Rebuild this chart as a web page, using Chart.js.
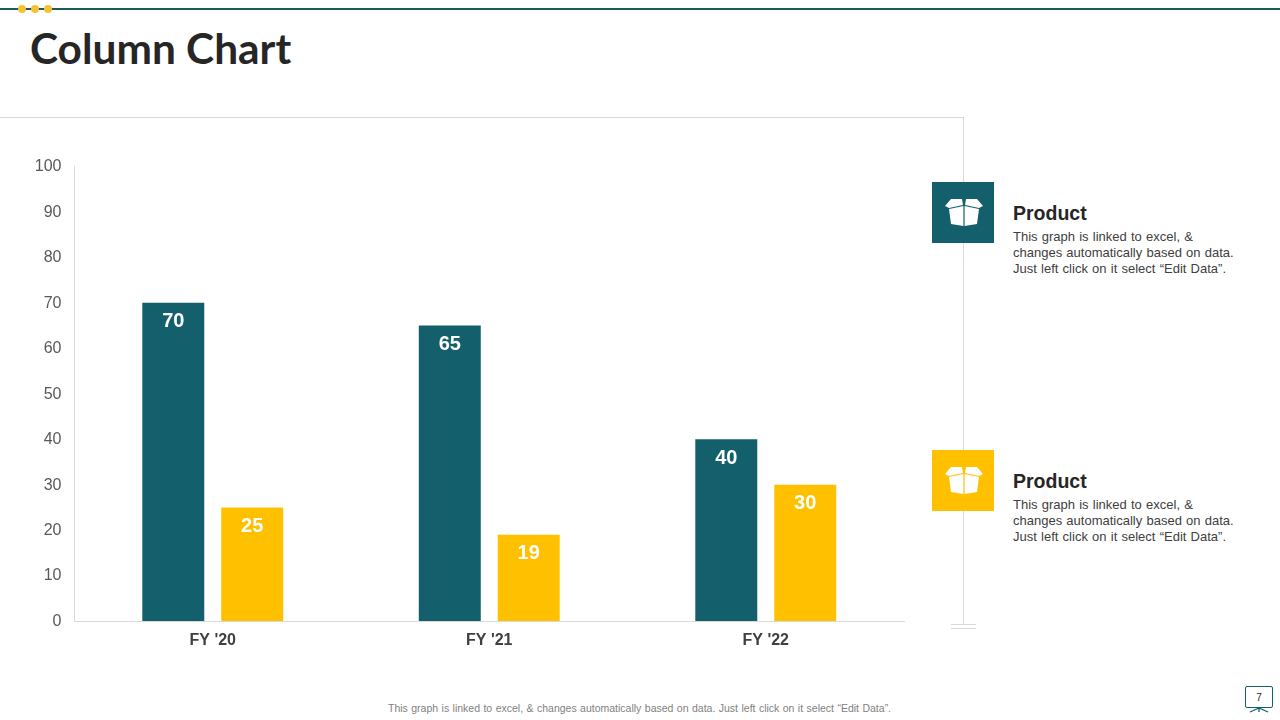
<!DOCTYPE html>
<html>
<head>
<meta charset="utf-8">
<title>Column Chart</title>
<script src="https://cdn.jsdelivr.net/npm/chart.js@4/dist/chart.umd.min.js"></script>
<style>
    html, body { margin: 0; padding: 0; background: #fff; }
    body { width: 1280px; height: 720px; position: relative; overflow: hidden; font-family: "Liberation Sans", Arial, sans-serif; }
    .abs { position: absolute; }
    #chartWrap { position: absolute; left: 0; top: 150px; width: 930px; height: 510px; }
    h1 { position: absolute; left: 30px; top: 23px; margin: 0; font-family: Lato, sans-serif; font-weight: 700; font-size: 42.4px; line-height: 50px; color: #262626; white-space: nowrap; }
    .dot { position: absolute; top: 5px; width: 8px; height: 8px; border-radius: 50%; background: #f4c430; }
    .tile { position: absolute; left: 932px; width: 62px; height: 61px; }
    .tile svg { position: absolute; left: 13px; top: 17px; }
    .panelTitle { position: absolute; left: 1013px; font-weight: 700; font-size: 19.5px; line-height: 24px; color: #262626; }
    .panelText { position: absolute; left: 1013px; font-size: 13px; line-height: 16px; color: #404040; word-spacing: .6px; white-space: pre; }
    #footer { position: absolute; left: 388px; top: 701px; font-size: 10.5px; line-height: 14px; color: #7f7f7f; white-space: nowrap; word-spacing: .52px; }
    #pageBox { position: absolute; left: 1245px; top: 686px; width: 26px; height: 20px; border: 1px solid #135f6b; border-radius: 2px; text-align: center; font-size: 10px; line-height: 21px; color: #262626; }
</style>
</head>
<body>

<div class="abs" style="left:0;top:8px;width:1280px;height:2px;background:#1d5a5e"></div>
<div class="dot" style="left:18px"></div>
<div class="dot" style="left:31px"></div>
<div class="dot" style="left:44px"></div>
<h1 id="title"></h1>

<!-- frame behind the chart -->
<div class="abs" style="left:0;top:117px;width:964px;height:1px;background:#d9d9d9"></div>
<div class="abs" style="left:963px;top:117px;width:1px;height:508px;background:#d9d9d9"></div>
<div class="abs" style="left:951px;top:624px;width:25px;height:1px;background:#d9d9d9"></div>
<div class="abs" style="left:951px;top:628px;width:25px;height:1px;background:#d9d9d9"></div>

<div id="chartWrap"><canvas id="columnChart"></canvas></div>

<div id="panels"></div>

<div id="footer"></div>
<div id="pageBox"></div>
<svg class="abs" style="left:1245px;top:707px" width="28" height="7" viewBox="0 0 28 7">
    <path d="M14 1 L5 5 M14 1 L23 5 M14 1 V5" stroke="#135f6b" stroke-width="1.3" fill="none"/>
</svg>

<script>
var categories = ["FY '20", "FY '21", "FY '22"];
var seriesNames = ['Product', 'Product'];
var seriesOne = [70, 65, 40];
var seriesTwo = [25, 19, 30];
var seriesColors = ['#135f6b', '#ffc000'];
var yTicks = [0, 10, 20, 30, 40, 50, 60, 70, 80, 90, 100];
var panelTops = [182, 450];
var panelText = 'This graph is linked to excel, &\nchanges automatically based on data.\nJust left click on it select “Edit Data”.';
var footerText = 'This graph is linked to excel, & changes automatically based on data. Just left click on it select “Edit Data”.';

document.getElementById('title').textContent = 'Column Chart';
document.getElementById('footer').textContent = footerText;
document.getElementById('pageBox').textContent = '7';

// side panels with the box icon
var boxIcon = '<svg width="38" height="27" viewBox="0 0 38 27">' +
    '<path d="M0 7 L6 0 L17 0 L18 6 L4 9 Z M38 7 L32 0 L21 0 L20 6 L34 9 Z" fill="#fff"/>' +
    '<path d="M4 10 L18.4 7 L18.4 27 L6 25 Z M34 10 L19.6 7 L19.6 27 L32 25 Z" fill="#fff"/></svg>';
var panels = document.getElementById('panels');
for (var i = 0; i < panelTops.length; i++) {
    var panelTop = panelTops[i];
    panels.innerHTML +=
        '<div class="tile" style="top:' + panelTop + 'px;background:' + seriesColors[i] + '">' + boxIcon + '</div>' +
        '<div class="panelTitle" style="top:' + (panelTop + 19) + 'px">' + seriesNames[i] + '</div>' +
        '<div class="panelText" style="top:' + (panelTop + 47) + 'px">' + panelText + '</div>';
}

// white value labels inside the top of each bar
var barLabels = {
    id: 'barLabels',
    afterDatasetsDraw: function (chart) {
        var ctx = chart.ctx;
        ctx.save();
        ctx.fillStyle = '#fff';
        ctx.font = 'bold 20px "Liberation Sans"';
        ctx.textAlign = 'center';
        ctx.textBaseline = 'middle';
        chart.data.datasets.forEach(function (ds, d) {
            chart.getDatasetMeta(d).data.forEach(function (bar, n) {
                ctx.fillText(ds.data[n], bar.x, bar.y + 19);
            });
        });
        ctx.restore();
    }
};

new Chart(document.getElementById('columnChart'), {
    type: 'bar',
    data: {
        labels: categories,
        datasets: [
            { label: seriesNames[0], data: seriesOne, backgroundColor: seriesColors[0] },
            { label: seriesNames[1], data: seriesTwo, backgroundColor: seriesColors[1] }
        ]
    },
    plugins: [barLabels],
    options: {
        responsive: true,
        maintainAspectRatio: false,
        animation: false,
        categoryPercentage: 0.571,
        barPercentage: 0.785,
        layout: { padding: { top: 16.5, right: 26, bottom: 0, left: 0 } },
        plugins: { legend: { display: false }, tooltip: { enabled: false } },
        scales: {
            x: {
                grid: { display: false, drawTicks: false },
                border: { color: '#d9d9d9' },
                ticks: { color: '#404040', font: { family: 'Liberation Sans', size: 16, weight: 'bold' }, padding: 10 },
                afterFit: function (scale) { scale.height = 39; }
            },
            y: {
                min: 0,
                max: 100,
                grid: { display: false, drawTicks: false },
                border: { color: '#d9d9d9' },
                afterBuildTicks: function (scale) {
                    scale.ticks = yTicks.map(function (v) { return { value: v }; });
                },
                ticks: { color: '#595959', font: { family: 'Liberation Sans', size: 16 }, padding: 13, labelOffset: 0.5 },
                afterFit: function (scale) {
                    scale.width = 74.5;
                    scale.paddingTop = 0;
                    scale.paddingBottom = 0;
                }
            }
        }
    }
});
</script>
</body>
</html>
